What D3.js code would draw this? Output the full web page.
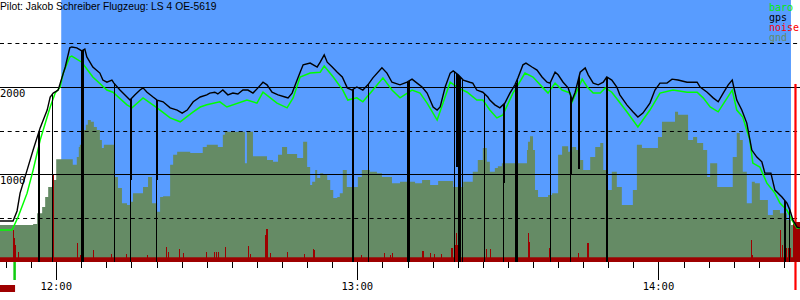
<!DOCTYPE html>
<html><head><meta charset="utf-8">
<script src="https://cdn.jsdelivr.net/npm/d3@7"></script>
<style>body{margin:0;background:#fff}svg{display:block}</style>
</head><body>
<svg id="c" width="800" height="300"></svg>
<script>
// ---- data (time = minutes since midnight, altitude in m) ----
const title = "Pilot: Jakob Schreiber Flugzeug: LS 4 OE-5619";
const seriesNames = ["baro", "gps", "noise", "gnd"];
const timeDomain = [708.8, 868.2];
const altDomain = [0, 3000];
const solidGrid = [1000, 2000];
const dashedGrid = [500, 1500, 2500];
const altLabels = [1000, 2000];
const hourTicks = [720, 780, 840];
const hourLabels = ["12:00", "13:00", "14:00"];
const minorStep = 5;
const takeoffTime = 711.7;
const flightWindow = [721.0, 866.4];
const endMarker = [867.3, 2035];

const gps = [
[708.8,460],[711.4,460],[712.2,575],[712.8,780],[714.2,1045],[715.4,1275],[716.8,1530],[718.2,1735],
[718.8,1885],[719.4,1930],[720.4,1965],[720.8,2045],[721.8,2230],[722.7,2450],[723.1,2460],[724.1,2450],
[725.1,2415],[725.7,2435],[726.1,2345],[727.3,2230],[728.7,2160],[729.3,2080],[730.1,2055],[731.1,2080],
[731.5,2045],[732.7,1965],[734.1,1885],[734.7,1850],[735.7,1910],[736.7,1965],[737.3,1990],[738.1,1940],
[739.3,1885],[740.1,1850],[741.3,1830],[742.7,1760],[744.1,1735],[745.1,1700],[746.1,1735],[747.3,1830],
[748.7,1885],[750.0,1910],[750.6,1930],[751.6,1940],[752.2,1920],[753.2,1965],[754.2,1910],[755.2,1930],
[756.2,1920],[757.2,1965],[758.2,1965],[759.2,1930],[760.2,1990],[761.2,2055],[762.0,2025],[763.0,1940],
[764.2,1910],[765.6,1885],[766.2,1875],[767.0,1930],[768.0,2080],[768.6,2170],[769.2,2255],[770.6,2275],
[772.0,2230],[772.6,2285],[773.4,2370],[774.0,2285],[775.0,2230],[776.0,2170],[777.0,2115],[778.0,1990],
[778.9,1965],[779.9,2000],[781.1,1965],[782.1,2025],[783.1,2105],[784.9,2220],[785.9,2160],[786.9,2055],
[788.5,2025],[789.9,2055],[790.9,2090],[791.9,2045],[792.9,2000],[793.9,1930],[795.1,1770],[795.9,1735],
[796.5,1770],[797.5,2000],[798.5,2160],[799.1,2185],[800.1,2140],[801.1,2080],[802.4,2055],[803.0,2045],
[803.8,1965],[805.0,1940],[806.0,1885],[806.4,1850],[807.4,1795],[808.4,1760],[809.4,1815],[810.4,1930],
[811.4,2025],[812.0,2105],[813.0,2255],[813.6,2275],[814.8,2230],[815.8,2195],[816.8,2115],[817.8,2055],
[818.4,2045],[819.4,2170],[820.0,2140],[821.0,2055],[822.0,1990],[822.8,1850],[823.4,1940],[824.4,2170],
[825.4,2220],[826.0,2140],[827.0,2045],[828.0,2025],[829.0,2055],[829.7,2115],[830.7,2080],[831.7,2000],
[832.3,1910],[833.7,1795],[834.9,1715],[835.9,1655],[836.9,1700],[838.3,1815],[839.3,1965],[840.3,2045],
[841.7,2045],[842.7,2090],[843.9,2080],[845.7,2055],[847.7,2055],[848.3,2000],[849.7,1940],[850.9,1875],
[851.9,1830],[852.9,1930],[853.9,2025],[854.7,2080],[855.0,2000],[855.6,1850],[856.6,1735],[857.6,1585],
[858.6,1275],[859.6,1195],[860.6,1140],[861.2,1010],[862.4,1010],[863.2,815],[864.6,735],[865.6,665],
[866.2,585],[866.8,470],[867.6,390],[868.2,380]
];

const baro = [
[708.8,355],[711.2,355],[712.4,505],[714.2,780],[715.4,1045],[716.8,1390],[718.8,1770],[719.8,1930],
[720.8,2000],[721.4,2160],[722.7,2345],[723.1,2355],[725.1,2285],[727.3,2115],[730.1,1965],[731.3,1940],
[734.1,1795],[735.1,1760],[737.3,1875],[740.1,1760],[742.7,1645],[744.7,1600],[747.3,1715],[748.7,1770],
[750.0,1795],[752.6,1830],[754.0,1770],[758.0,1850],[760.0,1815],[761.2,1940],[764.0,1815],[766.0,1760],
[767.2,1875],[768.6,2115],[770.6,2160],[772.6,2170],[773.4,2240],[775.2,2115],[777.1,1965],[778.1,1850],
[779.9,1875],[781.1,1830],[783.1,1965],[785.1,2105],[786.9,1965],[788.5,1875],[790.9,1965],[792.5,1930],
[793.9,1815],[795.9,1620],[798.5,2055],[800.1,1990],[801.9,1940],[803.8,1850],[805.0,1850],[806.4,1735],
[807.8,1645],[809.0,1680],[811.0,1930],[811.4,1965],[813.4,2160],[815.0,2115],[817.0,1990],[818.0,1930],
[819.4,2045],[820.8,1965],[822.4,1930],[822.8,1830],[824.8,2090],[825.8,2000],[827.0,1930],[828.4,1930],
[829.4,1990],[830.7,1940],[831.9,1850],[833.7,1715],[835.9,1540],[838.3,1735],[840.3,1930],[842.9,1965],
[845.7,1940],[847.7,1940],[848.9,1875],[850.3,1770],[851.9,1715],[854.7,1965],[855.6,1735],[856.8,1655],
[858.2,1390],[858.8,1125],[860.2,1080],[861.6,895],[863.2,780],[864.2,665],[865.6,585],[866.6,470],
[867.6,380],[868.2,380]
];

const gnd = [
[708.8,415],[715.4,425],[716.2,550],[717.2,620],[717.8,735],[718.4,850],[719.2,930],[720.0,1170],
[723.3,1105],[724.1,1195],[724.5,1310],[724.7,1335],[725.3,1505],[725.9,1565],[726.3,1620],[726.9,1600],
[727.5,1540],[728.1,1505],[728.7,1390],[729.1,1300],[729.5,1335],[731.7,965],[732.3,840],[733.1,665],
[734.1,645],[734.7,680],[735.3,780],[737.3,850],[738.3,965],[739.1,665],[740.1,565],[740.7,735],
[741.3,745],[742.7,1105],[743.3,1220],[744.1,1255],[746.7,1240],[749.2,1310],[750.0,1335],[752.2,1310],
[753.2,1450],[753.6,1485],[757.6,1125],[758.0,1485],[759.2,1205],[762.0,1160],[763.2,1140],[764.2,1220],
[765.0,1310],[766.0,1230],[768.0,1185],[769.2,1370],[770.0,1080],[770.6,875],[771.0,910],[771.6,1045],
[772.0,955],[772.6,1010],[773.2,990],[774.0,930],[774.6,815],[775.2,725],[776.0,735],[776.5,780],
[777.1,1045],[777.9,850],[780.1,965],[780.9,1045],[782.5,1025],[783.9,1010],[784.9,965],[786.9,895],
[788.5,910],[791.5,895],[792.9,930],[794.5,875],[796.1,920],[799.1,850],[801.1,910],[803.0,1025],
[804.0,1160],[805.0,1300],[805.8,1140],[806.4,1025],[807.4,1070],[808.0,1090],[808.8,1125],[813.8,1275],
[814.0,1370],[814.4,1435],[815.0,1275],[815.4,815],[816.0,735],[818.0,760],[818.8,780],[820.0,1220],
[820.8,1320],[822.0,1255],[822.8,1310],[823.6,1275],[824.4,1160],[825.0,1045],[826.4,1195],[827.4,1310],
[828.4,1355],[829.0,1045],[829.7,815],[830.7,1025],[831.7,850],[832.7,645],[834.9,815],[835.7,1335],
[836.7,1300],[839.9,1425],[840.7,1600],[843.3,1715],[843.9,1680],[845.9,1390],[846.9,1425],[847.7,1355],
[848.9,1275],[849.7,965],[850.3,1125],[851.7,850],[854.8,1195],[855.6,1470],[856.2,1390],[856.8,1025],
[857.6,665],[858.6,910],[859.2,895],[860.2,700],[861.8,530],[862.8,585],[864.2,550],[865.6,470],
[866.4,415],[868.2,415]
];

const noiseBase = 18;
const noiseSpikes = [
[711.3,122],[711.5,92],[711.7,65],[712.4,38],[719.3,332],[724.1,73],[724.7,27],[727.3,46],[730.9,31],
[733.9,31],[738.1,27],[741.9,57],[742.3,38],[744.5,50],[745.3,34],[749.8,38],[751.4,38],[751.8,38],
[752.2,38],[753.6,57],[758.2,61],[758.6,31],[761.6,103],[761.8,126],[762.0,126],[762.6,34],[766.0,38],
[769.4,31],[771.2,50],[771.4,46],[780.7,27],[785.3,34],[786.5,27],[786.9,34],[792.9,42],[793.1,42],
[794.5,34],[795.3,31],[796.7,31],[798.7,53],[798.9,53],[799.5,65],[799.7,111],[799.9,65],[800.5,34],
[805.6,50],[806.4,50],[814.0,111],[814.2,76],[818.2,53],[824.0,34],[825.8,73],[826.0,73],[858.4,84],
[858.6,27],[864.2,122],[864.6,65],[865.0,84],[865.2,111],[865.4,53],[865.8,53],[866.2,53],
[866.8,153],[867.0,153],[867.2,153],[867.4,153],[867.6,153],[867.8,153],[868.0,153]
];

// gps fixes that dropped out: [time, altitude of the bad fix]
const gpsDropouts = [
[716.4,0],[716.6,0],[719.2,0],[724.9,0],[725.1,0],[725.3,0],[731.5,0],[734.7,0],[734.9,930],
[739.9,0],[740.1,930],[778.9,0],[779.2,0],[782.2,0],[789.9,0],[790.1,0],[790.3,0],[799.2,0],
[799.6,1080],[799.8,1080],[800.1,0],[800.3,0],[800.5,0],[800.9,0],[805.2,0],[809.0,0],[809.2,895],
[811.4,0],[811.6,0],[811.8,0],[818.4,0],[822.4,0],[822.6,990],[824.0,1060],[824.2,1060],
[829.5,0],[829.7,0],[865.1,0],[865.3,0],[866.1,0]
];

// ---- colours ----
const colors = {baro:"#00ee00", gps:"#000000", noise:"#ff0000", gnd:"#658b65"};
const skyColor = "#589cff";
const noiseColor = "#9e0000";

// ---- scales ----
const W = 800, bottom = 262;
const x = d3.scaleLinear().domain(timeDomain).range([0, W]);
const y = d3.scaleLinear().domain(altDomain).range([261, 0]);
const yN = d3.scaleLinear().domain([0, 1000]).range([bottom, 0]);

const svg = d3.select("#c");

// sky (flight window)
svg.append("rect").attr("x", x(flightWindow[0])).attr("y", 0)
  .attr("width", x(flightWindow[1]) - x(flightWindow[0])).attr("height", bottom)
  .attr("fill", skyColor);

// ground
svg.append("path").datum(gnd)
  .attr("d", d3.area().curve(d3.curveStepAfter).x(d => x(d[0])).y0(bottom).y1(d => y(d[1])))
  .attr("fill", colors.gnd);

// grid
svg.append("g").selectAll("line").data(solidGrid).join("line")
  .attr("x1", 0).attr("x2", W).attr("y1", d => Math.round(y(d)) + 0.5).attr("y2", d => Math.round(y(d)) + 0.5)
  .attr("stroke", "#000").attr("stroke-width", 1.2);
svg.append("g").selectAll("line").data(dashedGrid).join("line")
  .attr("x1", 0).attr("x2", W).attr("y1", d => Math.round(y(d)) + 0.5).attr("y2", d => Math.round(y(d)) + 0.5)
  .attr("stroke", "#000").attr("stroke-width", 1).attr("stroke-dasharray", "4,3.7");

// end marker
svg.append("line").attr("x1", x(endMarker[0])).attr("x2", x(endMarker[0]))
  .attr("y1", y(endMarker[1])).attr("y2", 290)
  .attr("stroke", colors.noise).attr("stroke-width", 2.2);

// noise
svg.append("rect").attr("x", 0).attr("width", W).attr("y", yN(noiseBase))
  .attr("height", bottom - yN(noiseBase)).attr("fill", noiseColor);
svg.append("g").selectAll("rect").data(noiseSpikes).join("rect")
  .attr("x", d => x(d[0])).attr("width", x(timeDomain[0] + 0.21) - x(timeDomain[0]))
  .attr("y", d => yN(d[1])).attr("height", d => bottom - yN(d[1]))
  .attr("fill", noiseColor).attr("shape-rendering", "crispEdges");

// lines
const line = d3.line().x(d => x(d[0])).y(d => y(d[1]));
svg.append("path").datum(baro).attr("d", line).attr("fill", "none")
  .attr("stroke", "#00ff00").attr("stroke-width", 1.5);
svg.append("path").datum(gps).attr("d", line).attr("fill", "none")
  .attr("stroke", colors.gps).attr("stroke-width", 1.4);

// gps dropouts
const bis = d3.bisector(d => d[0]).left;
function gpsAt(t) {
  const i = Math.max(1, Math.min(gps.length - 1, bis(gps, t)));
  const a = gps[i - 1], b = gps[i];
  return a[1] + (b[1] - a[1]) * (t - a[0]) / (b[0] - a[0]);
}
svg.append("g").selectAll("line").data(gpsDropouts).join("line")
  .attr("x1", d => Math.round(x(d[0])) + 0.5).attr("x2", d => Math.round(x(d[0])) + 0.5)
  .attr("y1", d => y(gpsAt(d[0]))).attr("y2", d => d[1] === 0 ? bottom : y(d[1]))
  .attr("stroke", "#000").attr("stroke-width", 1.1).attr("shape-rendering", "crispEdges");

// time axis ticks
const minor = d3.range(Math.ceil(timeDomain[0] / minorStep) * minorStep, timeDomain[1], minorStep);
svg.append("g").selectAll("line").data(minor).join("line")
  .attr("x1", d => Math.round(x(d)) + 0.5).attr("x2", d => Math.round(x(d)) + 0.5)
  .attr("y1", bottom).attr("y2", d => hourTicks.includes(d) ? 280 : 268)
  .attr("stroke", "#000").attr("stroke-width", 1);
svg.append("g").selectAll("text").data(hourTicks).join("text")
  .attr("x", d => x(d)).attr("y", 290).attr("text-anchor", "middle")
  .attr("font-family", "DejaVu Sans Mono").attr("font-size", 10.5)
  .text((d, i) => hourLabels[i]);

// takeoff markers
svg.append("rect").attr("x", x(takeoffTime) - 1.2).attr("width", 2.5)
  .attr("y", bottom).attr("height", 18).attr("fill", "#10cc10");
svg.append("rect").attr("x", x(timeDomain[0])).attr("width", x(takeoffTime) - x(timeDomain[0]) + 0.5)
  .attr("y", 285).attr("height", 7).attr("fill", noiseColor);

// altitude labels
svg.append("g").selectAll("text").data(altLabels).join("text")
  .attr("x", 0).attr("y", d => y(d) + 9.5)
  .attr("font-family", "DejaVu Sans Mono").attr("font-size", 10.5)
  .text(d => d);

// legend
svg.append("g").selectAll("text").data(seriesNames).join("text")
  .attr("x", 769).attr("y", (d, i) => 10.5 + i * 10)
  .attr("font-family", "DejaVu Sans Mono").attr("font-size", 10)
  .attr("fill", d => colors[d]).text(d => d);

// title
svg.append("text").attr("x", 0).attr("y", 10)
  .attr("font-family", "Liberation Sans, Arial, sans-serif").attr("font-size", 10.3)
  .text(title);
</script>
</body></html>
